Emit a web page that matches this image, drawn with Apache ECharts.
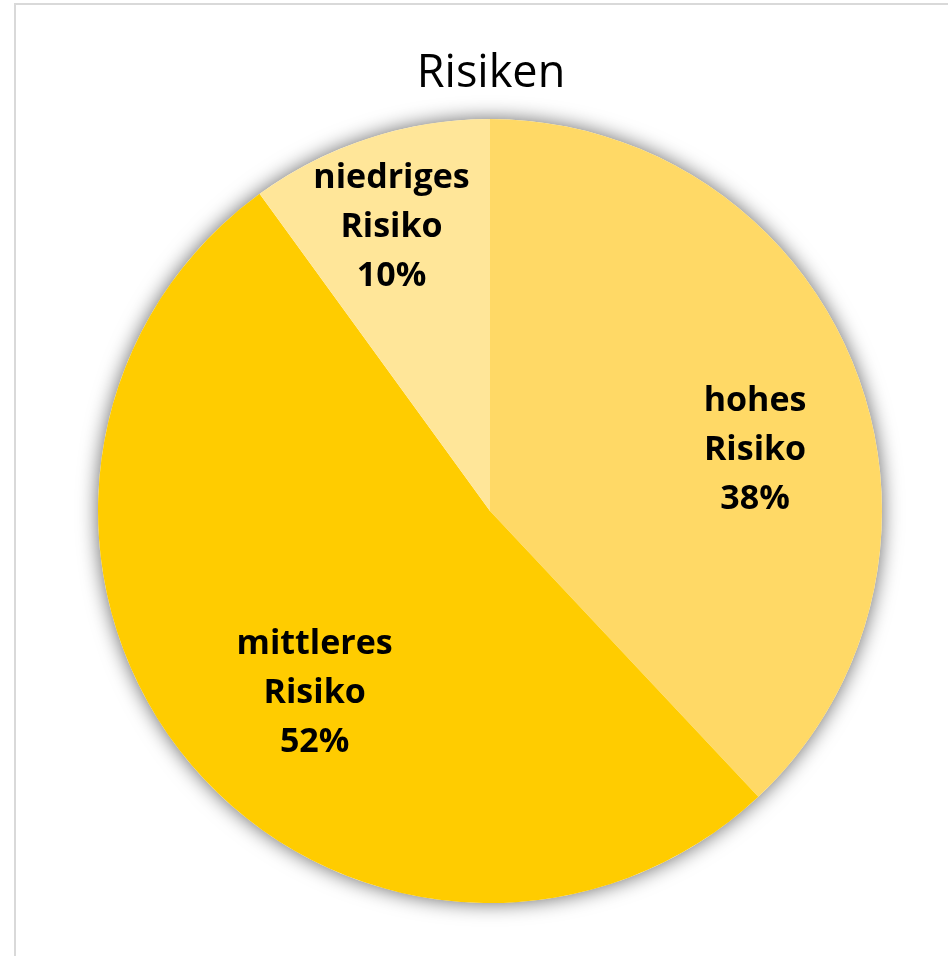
<!DOCTYPE html>
<html>
<head>
<meta charset="utf-8">
<style>
  html, body { margin: 0; padding: 0; background: #ffffff; }
  #chart { width: 948px; height: 956px; }
</style>
<script src="https://cdn.jsdelivr.net/npm/echarts@6/dist/echarts.min.js"></script>
</head>
<body>
<div id="chart"></div>
<script>
// Risk categories and their shares (percent)
const categories = ['hohes Risiko', 'mittleres Risiko', 'niedriges Risiko'];
const shares = [38, 52, 10];
const sliceColors = ['#FFD966', '#FFCC00', '#FFE699'];
// Per-slice nudges of the inside labels
const labelOffsets = [[80, 13], [-22, 55], [-37, -94]];

const chart = echarts.init(document.getElementById('chart'), null, { renderer: 'canvas' });

const data = categories.map((name, i) => ({
  name: name,
  value: shares[i],
  itemStyle: { color: sliceColors[i] },
  label: { offset: labelOffsets[i] }
}));

const pieCenter = [490, 511];
const pieRadius = 392;

chart.setOption({
  animation: false,
  backgroundColor: '#ffffff',
  title: {
    text: 'Risiken',
    left: 486,
    textAlign: 'center',
    top: 47,
    textStyle: {
      fontFamily: 'Open Sans',
      fontWeight: 'normal',
      fontSize: 45,
      color: '#000000'
    }
  },
  graphic: [{
    type: 'rect',
    shape: { x: 15, y: 4, width: 1000, height: 1000 },
    style: { fill: 'none', stroke: '#d9d9d9', lineWidth: 2 },
    silent: true
  }],
  series: [
    {
      // soft drop shadow under the whole disc
      type: 'pie',
      center: pieCenter,
      radius: [0, pieRadius],
      silent: true,
      z: 1,
      label: { show: false },
      labelLine: { show: false },
      emphasis: { disabled: true },
      itemStyle: {
        color: '#ffffff',
        shadowBlur: 20,
        shadowColor: 'rgba(0,0,0,0.6)'
      },
      data: [{ value: 1, name: '' }]
    },
    {
      type: 'pie',
      center: pieCenter,
      radius: [0, pieRadius],
      startAngle: 90,
      clockwise: true,
      z: 2,
      avoidLabelOverlap: false,
      itemStyle: { borderWidth: 0 },
      label: {
        show: true,
        position: 'inside',
        formatter: function (p) {
          const parts = p.name.split(' ');
          return parts[0] + '\n' + parts[1] + '\n' + p.value + '%';
        },
        fontFamily: 'Open Sans',
        fontWeight: 'bold',
        fontSize: 34,
        lineHeight: 49,
        color: '#000000'
      },
      labelLine: { show: false },
      emphasis: { disabled: true },
      data: data
    }
  ]
});
</script>
</body>
</html>
